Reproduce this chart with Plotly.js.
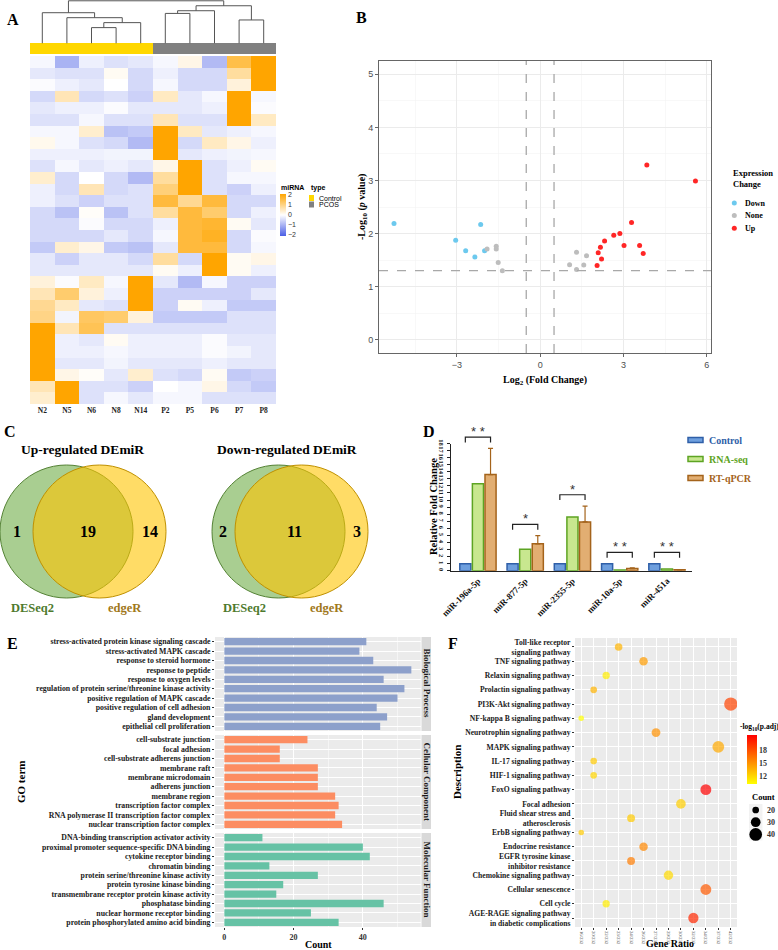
<!DOCTYPE html>
<html>
<head>
<meta charset="utf-8">
<script src="https://cdn.plot.ly/plotly-3.0.1.min.js"></script>
<style>
  html, body { margin: 0; padding: 0; background: #fff; }
  #chart { width: 778px; height: 950px; }
</style>
</head>
<body>
<div id="chart"></div>
<script>
// ---------- A: heatmap ----------
const samples = ["N2", "N5", "N6", "N8", "N14", "P2", "P5", "P6", "P7", "P8"];
const sampleType = ["Control", "Control", "Control", "Control", "Control", "PCOS", "PCOS", "PCOS", "PCOS", "PCOS"];
const heatRows = [
  [-0.1, -1.0, -0.2, -0.4, -0.3, -0.1, 0.2, -0.9, 1.5, 2.5],
  [-0.3, -0.4, -0.4, 0.1, -0.5, -0.2, -0.5, -0.5, 0.8, 2.5],
  [-0.05, -0.2, -0.3, 0.0, -0.5, -0.1, -0.5, -0.5, 0.3, 2.5],
  [-0.5, 0.6, -0.5, -0.4, -0.6, 0.5, -0.3, -0.1, 2.5, -0.1],
  [-0.3, -0.2, -0.2, -0.05, -0.3, -0.3, -0.3, -0.2, 2.5, -0.05],
  [-0.4, -0.4, -0.1, -0.4, -0.4, 0.6, -0.4, -0.4, 2.5, 0.5],
  [-0.1, -0.1, 0.4, -0.8, -0.7, 2.5, 0.5, -0.3, -0.2, -0.1],
  [0.15, -0.1, -0.4, -0.5, -0.9, 2.5, -0.5, 0.5, 0.2, -0.2],
  [-0.2, -0.2, -0.2, -0.15, -0.15, 2.5, -0.3, -0.2, -0.15, -0.1],
  [-0.4, -0.1, -0.3, -0.2, -0.3, 0.2, 2.5, -0.4, -0.2, 0.1],
  [0.4, -0.5, 0.0, -0.5, -0.9, 0.8, 2.5, -0.4, -0.1, -0.1],
  [-0.2, -0.5, 0.6, -0.5, -0.4, 1.1, 2.5, -0.4, -0.6, -0.2],
  [-0.2, -0.4, -0.6, -0.4, -0.4, 1.6, 0.9, 1.6, -0.5, -0.5],
  [-0.5, -0.8, 0.05, -0.8, -0.4, 0.8, 1.6, 1.2, -0.5, -0.2],
  [-0.5, -0.5, -0.05, -0.5, -0.5, -0.2, 1.6, 1.7, 0.1, -0.3],
  [-0.5, -0.5, -0.5, -0.3, -0.5, -0.1, 1.6, 1.8, -0.5, -0.05],
  [-0.7, 0.4, 0.2, -0.7, -0.8, -0.3, 1.6, 1.6, -0.5, -0.1],
  [-0.3, -0.6, -0.3, -0.3, -0.5, 0.8, -0.5, 2.5, 0.1, 0.2],
  [-0.3, -0.3, -0.3, -0.3, -0.3, 0.1, -0.2, 2.5, 0.1, -0.2],
  [0.3, -0.05, 0.5, -0.1, 2.5, -0.3, -0.9, -0.1, -0.6, -0.6],
  [0.6, 1.2, 0.3, -0.2, 2.3, -0.6, -0.6, -0.6, -0.6, -0.3],
  [0.9, 0.5, -0.3, -0.4, 2.5, -0.6, 0.1, -0.2, -0.7, -0.7],
  [1.0, -0.15, 1.3, 1.2, 0.3, -0.7, -0.7, -0.7, -0.4, -0.4],
  [2.5, 0.6, 1.4, -0.4, -0.4, -0.4, -0.4, -0.4, -0.4, -0.4],
  [2.5, -0.2, -0.3, 0.1, -0.2, -0.2, -0.2, -0.05, -0.3, -0.3],
  [2.5, -0.2, -0.2, -0.1, -0.2, -0.2, -0.2, -0.05, -0.15, -0.3],
  [2.5, -0.3, -0.3, -0.15, -0.3, -0.3, -0.3, -0.2, -0.3, -0.3],
  [2.5, 0.2, 0.05, -0.3, 0.4, -0.4, -0.5, 0.1, -0.7, -0.6],
  [0.6, 2.5, -0.4, -0.4, -0.6, 0.0, -0.1, 0.2, -0.5, -0.7],
  [0.4, 2.5, -0.4, -0.1, -0.3, -0.1, -0.1, -0.4, -0.4, -0.4]
];
// column clustering: [childA, childB, height]; ids >= 10 are earlier merges
const dendroMerges = [
  [2, 3, 16], [4, 10, 21], [1, 11, 26], [0, 12, 31],
  [5, 6, 30.3], [14, 7, 33], [8, 9, 23.7], [15, 16, 38], [13, 17, 43]
];

// ---------- B: volcano ----------
const volcanoFC = [-5.26, -3.04, -2.68, -2.35, -2.14, -2.0,
  -1.91, -1.58, -1.58, -1.51, -1.36, 1.06, 1.31, 1.31, 1.57, 1.67,
  2.05, 2.09, 2.17, 2.21, 2.32, 2.65, 2.87, 3.02, 3.29, 3.58, 3.71, 3.84, 5.59];
const volcanoLogP = [2.19, 1.875, 1.675, 1.556, 2.17, 1.675,
  1.71, 1.76, 1.71, 1.456, 1.3, 1.41, 1.65, 1.325, 1.406, 1.58,
  1.4, 1.64, 1.74, 1.52, 1.86, 1.97, 2.0, 1.775, 2.21, 1.775, 1.625, 3.29, 2.99];
const volcanoStatus = ["Down", "Down", "Down", "Down", "Down", "Down",
  "None", "None", "None", "None", "None", "None", "None", "None", "None", "None",
  "Up", "Up", "Up", "Up", "Up", "Up", "Up", "Up", "Up", "Up", "Up", "Up", "Up"];
const statusLevels = ["Down", "None", "Up"];
const statusColors = { Down: "#6CC9EE", None: "#BDBDBD", Up: "#FF2626" };

// ---------- C: venn ----------
const vennUpCounts = [1, 19, 14];
const vennDownCounts = [2, 11, 3];

// ---------- D: validation bars ----------
const mirnas = ["miR-196a-5p", "miR-877-5p", "miR-2355-5p", "miR-10a-5p", "miR-451a"];
const controlFC = [1, 1, 1, 1, 1];
const rnaseqFC = [12.3, 3.05, 7.6, 0.1, 0.25];
const qpcrFC = [13.6, 3.8, 6.9, 0.3, 0.12];
const qpcrErr = [3.7, 1.15, 2.25, 0.1, 0.03];
const sigMarks = ["* *", "*", "*", "* *", "* *"];

// ---------- E: GO enrichment ----------
const bpTerms = ["stress-activated protein kinase signaling cascade", "stress-activated MAPK cascade",
  "response to steroid hormone", "response to peptide", "response to oxygen levels",
  "regulation of protein serine/threonine kinase activity", "positive regulation of MAPK cascade",
  "positive regulation of cell adhesion", "gland development", "epithelial cell proliferation"];
const bpCounts = [41, 39, 43, 54, 46, 52, 50, 44, 47, 45];
const ccTerms = ["cell-substrate junction", "focal adhesion", "cell-substrate adherens junction",
  "membrane raft", "membrane microdomain", "adherens junction", "membrane region",
  "transcription factor complex", "RNA polymerase II transcription factor complex",
  "nuclear transcription factor complex"];
const ccCounts = [24, 16, 16, 27, 27, 27, 32, 33, 32, 34];
const mfTerms = ["DNA-binding transcription activator activity", "proximal promoter sequence-specific DNA binding",
  "cytokine receptor binding", "chromatin binding", "protein serine/threonine kinase activity",
  "protein tyrosine kinase binding", "transmembrane receptor protein kinase activity",
  "phosphatase binding", "nuclear hormone receptor binding", "protein phosphorylated amino acid binding"];
const mfCounts = [11, 40, 42, 13, 27, 17, 15, 46, 25, 33];

// ---------- F: KEGG dot plot ----------
const ratioLevels = ["16/232", "20/232", "22/232", "23/232", "24/232", "26/232", "27/232",
  "29/232", "30/232", "32/232", "34/232", "37/232", "42/232"];
const keggTerms = ["Toll-like receptor<br>signaling pathway", "TNF signaling pathway",
  "Relaxin signaling pathway", "Prolactin signaling pathway", "PI3K-Akt signaling pathway",
  "NF-kappa B signaling pathway", "Neurotrophin signaling pathway", "MAPK signaling pathway",
  "IL-17 signaling pathway", "HIF-1 signaling pathway", "FoxO signaling pathway", "Focal adhesion",
  "Fluid shear stress and<br>atherosclerosis", "ErbB signaling pathway", "Endocrine resistance",
  "EGFR tyrosine kinase<br>inhibitor resistance", "Chemokine signaling pathway", "Cellular senescence",
  "Cell cycle", "AGE-RAGE signaling pathway<br>in diabetic complications"];
const keggRatio = ["23/232", "26/232", "22/232", "20/232", "42/232", "16/232", "27/232", "37/232",
  "20/232", "20/232", "34/232", "30/232", "24/232", "16/232", "26/232", "24/232", "29/232",
  "34/232", "22/232", "32/232"];
const keggCount = [23, 26, 22, 20, 42, 16, 27, 37, 20, 20, 34, 30, 24, 16, 26, 24, 29, 34, 22, 32];
const keggLogP = [13.5, 14.5, 11, 13.5, 18.5, 10.15, 15, 14, 12.5, 12, 21.5, 12.3, 12.5, 12.5,
  15.5, 16, 11.8, 17.5, 11, 19.8];
const sizeBreaks = [20, 30, 40];

// ---------- helpers ----------
const W = 778, H = 950;
const SERIF = "Liberation Serif, Times New Roman, serif";
const SANS = "Liberation Sans, Arial, sans-serif";
const fx = p => p / W;
const fy = p => 1 - p / H;
const domX = (a, b) => [a / W, b / W];
const domY = (top, bot) => [1 - bot / H, 1 - top / H];
const font = (size, color, family, weight) => ({ size, color: color || "#000", family: family || SERIF, weight: weight || "normal" });
const dotSize = c => 0.3 * c + 0.7;

function note(text, x, y, f, extra) {
  return Object.assign({
    text, x: fx(x), y: fy(y), xref: "paper", yref: "paper", showarrow: false,
    xanchor: "center", yanchor: "middle", font: f
  }, extra || {});
}

function dendroLines(merges, nLeaves) {
  const pos = [], ht = [], xs = [], ys = [];
  for (let i = 0; i < nLeaves; i++) { pos[i] = i; ht[i] = 0; }
  merges.forEach(([a, b, h], k) => {
    xs.push(pos[a], pos[a], pos[b], pos[b], null);
    ys.push(ht[a], h, h, ht[b], null);
    pos[nLeaves + k] = (pos[a] + pos[b]) / 2;
    ht[nLeaves + k] = h;
  });
  return { xs, ys };
}

const traces = [];
const shapes = [];
const annotations = [];
const idx = samples.map((s, i) => i);

// ---------- A ----------
traces.push({
  type: "heatmap", xaxis: "x", yaxis: "y",
  z: heatRows, x: idx, y: heatRows.map((r, i) => i),
  zmin: -2.1, zmax: 2.1,
  colorscale: [[0, "#4B5FE6"], [0.5, "#FFFFFF"], [1, "#FFA500"]],
  colorbar: {
    x: fx(280), xanchor: "left", y: fy(194), yanchor: "top",
    len: 42, lenmode: "pixels", thickness: 6, outlinewidth: 0, xpad: 0, ypad: 0,
    tickvals: [-2, -1, 0, 1, 2], ticks: "", tickfont: font(7, "#333", SANS)
  },
  hoverinfo: "skip"
});
traces.push({
  type: "heatmap", xaxis: "x2", yaxis: "y2",
  z: [sampleType.map(t => t === "Control" ? 0 : 1)], x: idx,
  zmin: 0, zmax: 1, showscale: false,
  colorscale: [[0, "#FFD700"], [0.5, "#FFD700"], [0.5, "#808080"], [1, "#808080"]],
  hoverinfo: "skip"
});
const dendro = dendroLines(dendroMerges, samples.length);
traces.push({
  type: "scatter", mode: "lines", xaxis: "x3", yaxis: "y3",
  x: dendro.xs, y: dendro.ys, line: { color: "#555", width: 1 }, hoverinfo: "skip"
});

annotations.push(note("miRNA", 279, 187.5, font(7, "#000", SANS, "bold"), { xanchor: "left" }));
annotations.push(note("type", 309, 187.5, font(7, "#000", SANS, "bold"), { xanchor: "left" }));
[["Control", "#FFD700"], ["PCOS", "#808080"]].forEach(([name, col], i) => {
  const top = 195 + i * 6.5;
  shapes.push({ type: "rect", xref: "paper", yref: "paper", x0: fx(309), x1: fx(314), y0: fy(top + 6), y1: fy(top), fillcolor: col, line: { width: 0 } });
  annotations.push(note(name, 317, top + 3, font(7, "#000", SANS), { xanchor: "left" }));
});

// ---------- B ----------
statusLevels.forEach(st => {
  const sel = volcanoStatus.map((s, i) => s === st ? i : -1).filter(i => i >= 0);
  traces.push({
    type: "scatter", mode: "markers", xaxis: "x4", yaxis: "y4", name: st,
    x: sel.map(i => volcanoFC[i]), y: sel.map(i => volcanoLogP[i]),
    marker: { color: statusColors[st], size: 5 }
  });
});
[-0.5, 0.5].forEach(v => shapes.push({
  type: "line", xref: "x4", yref: "y4 domain", x0: v, x1: v, y0: 0, y1: 1,
  line: { color: "#A8A8A8", width: 1.3, dash: "dash" }
}));
shapes.push({
  type: "line", xref: "x4 domain", yref: "y4", x0: 0, x1: 1, y0: 1.3, y1: 1.3,
  line: { color: "#A8A8A8", width: 1.3, dash: "dash" }
});
annotations.push(note("-Log<sub>10</sub> (<i>p</i> value)", 362, 207, font(10, "#000", SERIF, "bold"), { textangle: -90 }));
annotations.push(note("Log<sub>2</sub> (Fold Change)", 545, 380, font(10, "#000", SERIF, "bold")));
annotations.push(note("Expression<br>Change", 731, 178, font(8.5, "#000", SERIF, "bold"), { xanchor: "left", align: "left" }));
statusLevels.forEach((st, i) => {
  const yy = 203 + i * 12.6;
  shapes.push({ type: "circle", xref: "paper", yref: "paper", x0: fx(731.8), x1: fx(736.8), y0: fy(yy + 2.5), y1: fy(yy - 2.5), fillcolor: statusColors[st], line: { width: 0 } });
  annotations.push(note(st, 743, yy, font(8, "#000", SERIF, "bold"), { xanchor: "left" }));
});

// ---------- C ----------
const greenFill = "rgba(112,173,71,0.6)", greenLine = "#548235";
const yellowFill = "rgba(255,196,0,0.6)", yellowLine = "#BF9000";
function venn(title, counts, cxG, cxY, tx) {
  const cy = 531.5, r = 66.5;
  shapes.push({ type: "circle", xref: "paper", yref: "paper", x0: fx(cxG - r), x1: fx(cxG + r), y0: fy(cy + r), y1: fy(cy - r), fillcolor: greenFill, line: { color: greenLine, width: 1 } });
  shapes.push({ type: "circle", xref: "paper", yref: "paper", x0: fx(cxY - r), x1: fx(cxY + r), y0: fy(cy + r), y1: fy(cy - r), fillcolor: yellowFill, line: { color: yellowLine, width: 1 } });
  annotations.push(note(title, tx, 450, font(13.5, "#000", SERIF, "bold")));
  const nx = [cxG - r + (cxY - cxG) / 2, (cxY - r + cxG + r) / 2 + 4.5, (cxG + r + cxY + r) / 2];
  counts.forEach((c, i) => annotations.push(note(String(c), nx[i], 531, font(16, "#000", SERIF, "bold"))));
  annotations.push(note("DESeq2", cxG - 34, 608, font(12.5, "#4E7A2E", SERIF, "bold")));
  annotations.push(note("edgeR", cxY + 25, 608, font(12.5, "#A0781A", SERIF, "bold")));
}
venn("Up-regulated DEmiR", vennUpCounts, 66.5, 99.5, 82);
venn("Down-regulated DEmiR", vennDownCounts, 278.5, 301.5, 287);

// ---------- D ----------
const barSeries = [
  { name: "Control", y: controlFC, fill: "#6E9FDE", line: "#2F5FA8" },
  { name: "RNA-seq", y: rnaseqFC, fill: "#C8E78F", line: "#5DA423" },
  { name: "RT-qPCR", y: qpcrFC, fill: "#E2AE72", line: "#A4631B", err: qpcrErr }
];
barSeries.forEach(s => {
  const t = {
    type: "bar", xaxis: "x5", yaxis: "y5", name: s.name, x: mirnas, y: s.y,
    marker: { color: s.fill, line: { color: s.line, width: 1.5 } }
  };
  if (s.err) t.error_y = { type: "data", array: s.err, arrayminus: s.err.map(() => 0), symmetric: false, color: s.line, thickness: 1.2, width: 2.5 };
  traces.push(t);
});
const D_TOP = 443.5, D_BOT = 570.7, D_MAX = 18;
const dPaper = v => fy(D_BOT - v * (D_BOT - D_TOP) / D_MAX);
const slot = 0.8 / 3;
mirnas.forEach((m, i) => {
  const top = Math.max(controlFC[i], rnaseqFC[i], qpcrFC[i] + qpcrErr[i]) + 1.6;
  const low = top - 0.75;
  shapes.push({
    type: "path", xref: "x5", yref: "paper",
    path: `M ${i - slot} ${dPaper(low)} L ${i - slot} ${dPaper(top)} L ${i + slot} ${dPaper(top)} L ${i + slot} ${dPaper(low)}`,
    line: { color: "#222", width: 1.2 }
  });
  annotations.push({ text: sigMarks[i], xref: "x5", yref: "paper", x: i, y: dPaper(top), xanchor: "center", yanchor: "bottom", yshift: -4, showarrow: false, font: font(13, "#333", SANS) });
});
annotations.push(note("Relative Fold Change", 433, 507, font(10.5, "#000", SERIF, "bold"), { textangle: -90 }));
barSeries.forEach((s, i) => {
  const yy = 440 + i * 19;
  shapes.push({ type: "rect", xref: "paper", yref: "paper", x0: fx(688), x1: fx(703), y0: fy(yy + 2.5), y1: fy(yy - 2.5), fillcolor: s.fill, line: { color: s.line, width: 1.5 } });
  annotations.push(note(s.name, 707, yy, font(10, s.line, SERIF, "bold"), { xanchor: "left" }));
});

// ---------- E ----------
const goFacets = [
  { terms: bpTerms, counts: bpCounts, color: "#8DA0CB", label: "Biological Process", top: 637, bot: 731 },
  { terms: ccTerms, counts: ccCounts, color: "#FC8D62", label: "Cellular Component", top: 735, bot: 829 },
  { terms: mfTerms, counts: mfCounts, color: "#66C2A5", label: "Molecular Function", top: 833, bot: 927 }
];
goFacets.forEach((f, k) => {
  const n = k + 6;
  traces.push({
    type: "bar", orientation: "h", xaxis: "x" + n, yaxis: "y" + n,
    x: f.counts, y: f.terms, width: 0.78, marker: { color: f.color }, hoverinfo: "x+y"
  });
  shapes.push({ type: "rect", xref: "paper", yref: "paper", layer: "below", x0: fx(215), x1: fx(420.7), y0: fy(f.bot), y1: fy(f.top), fillcolor: "#EBEBEB", line: { width: 0 } });
  shapes.push({ type: "rect", xref: "paper", yref: "paper", x0: fx(421.5), x1: fx(431), y0: fy(f.bot), y1: fy(f.top), fillcolor: "#D9D9D9", line: { width: 0 } });
  annotations.push(note(f.label, 426.5, (f.top + f.bot) / 2, font(9, "#1A1A1A", SERIF, "bold"), { textangle: 90 }));
});
annotations.push(note("GO term", 21, 782, font(11, "#000", SERIF, "bold"), { textangle: -90 }));
annotations.push(note("Count", 318, 944.5, font(10, "#000", SERIF, "bold")));

// ---------- F ----------
traces.push({
  type: "scatter", mode: "markers", xaxis: "x9", yaxis: "y9",
  x: keggRatio, y: keggTerms,
  marker: {
    size: keggCount.map(dotSize), color: keggLogP, cmin: 10.15, cmax: 21.5,
    colorscale: [[0, "#FFFF00"], [1, "#FF0000"]], line: { width: 0 },
    colorbar: {
      x: fx(747), xanchor: "left", y: fy(735), yanchor: "top",
      len: 49, lenmode: "pixels", thickness: 10, outlinewidth: 0, xpad: 0, ypad: 0,
      tickvals: [12, 15, 18], ticks: "", tickfont: font(8, "#333", SERIF, "bold")
    }
  }
});
shapes.push({ type: "rect", xref: "paper", yref: "paper", layer: "below", x0: fx(575), x1: fx(737), y0: fy(927), y1: fy(638), fillcolor: "#EBEBEB", line: { width: 0 } });
annotations.push(note("Description", 457, 772, font(11, "#000", SERIF, "bold"), { textangle: -90 }));
annotations.push(note("Gene Ratio", 670, 943.5, font(10, "#000", SERIF, "bold")));
annotations.push(note("-log<sub>10</sub>(p.adj)", 738, 727, font(7.5, "#000", SERIF, "bold"), { xanchor: "left" }));
annotations.push(note("Count", 750, 797, font(8.5, "#000", SERIF, "bold"), { xanchor: "left" }));
sizeBreaks.forEach((c, i) => {
  const yy = 810 + i * 12.2, d = dotSize(c);
  shapes.push({ type: "rect", xref: "paper", yref: "paper", x0: fx(749), x1: fx(762.5), y0: fy(yy + 6), y1: fy(yy - 6), fillcolor: "#F2F2F2", line: { width: 0 } });
  shapes.push({ type: "circle", xref: "paper", yref: "paper", x0: fx(755.7 - d / 2), x1: fx(755.7 + d / 2), y0: fy(yy + d / 2), y1: fy(yy - d / 2), fillcolor: "#000", line: { width: 0 } });
  annotations.push(note(String(c), 765, yy, font(8, "#333", SERIF, "bold"), { xanchor: "left" }));
});

// panel letters
[["A", 13, 19], ["B", 361, 17], ["C", 10, 431], ["D", 429, 431], ["E", 13, 643], ["F", 453, 643]]
  .forEach(([t, x, y]) => annotations.push(note(t, x, y, font(16, "#000", SERIF, "bold"))));

// ---------- axes ----------
const hidden = { visible: false, showgrid: false, zeroline: false };
const goX = {
  range: [-2.7, 56.7], tick0: 0, dtick: 20, showgrid: true, gridcolor: "#FFFFFF", gridwidth: 1,
  minor: { tick0: 0, dtick: 10, showgrid: true, gridcolor: "#FFFFFF", gridwidth: 0.5 },
  zeroline: false, showline: false
};
const goY = k => ({
  domain: domY(goFacets[k].top, goFacets[k].bot), anchor: "x" + (k + 6), type: "category",
  tickmode: "array", tickvals: goFacets[k].terms, ticktext: goFacets[k].terms,
  autorange: "reversed", showgrid: true, gridcolor: "#FFFFFF", gridwidth: 1,
  ticks: "outside", ticklen: 2, tickcolor: "#333", tickfont: font(7.8, "#1A1A1A", SERIF, "bold")
});

const layout = {
  width: W, height: H, margin: { l: 0, r: 0, t: 0, b: 0 },
  paper_bgcolor: "#FFFFFF", plot_bgcolor: "rgba(0,0,0,0)", showlegend: false,
  bargap: 0.2, bargroupgap: 0.12, barmode: "group",
  xaxis: {
    domain: domX(30, 276), anchor: "y", range: [-0.5, 9.5], tickvals: idx, ticktext: samples,
    tickfont: font(7.5, "#222", SERIF, "bold"), showgrid: false, zeroline: false, ticks: "", showline: false
  },
  yaxis: {
    domain: domY(56, 404), anchor: "x", range: [29.5, -0.5], showticklabels: false,
    showgrid: false, zeroline: false, ticks: "", showline: false
  },
  xaxis2: Object.assign({ domain: domX(30, 276), anchor: "y2", range: [-0.5, 9.5] }, hidden),
  yaxis2: Object.assign({ domain: domY(43, 54), anchor: "x2", range: [-0.5, 0.5] }, hidden),
  xaxis3: Object.assign({ domain: domX(30, 276), anchor: "y3", range: [-0.5, 9.5] }, hidden),
  yaxis3: Object.assign({ domain: domY(0, 43.5), anchor: "x3", range: [0, 43.8] }, hidden),
  xaxis4: {
    domain: domX(379, 711), anchor: "y4", range: [-5.8, 6.15], tick0: 0, dtick: 3,
    showgrid: true, gridcolor: "#EBEBEB", gridwidth: 1,
    minor: { tick0: 0, dtick: 1.5, showgrid: true, gridcolor: "#F4F4F4", gridwidth: 0.6 },
    zeroline: false, showline: true, mirror: true, linecolor: "#666", linewidth: 1,
    ticks: "outside", ticklen: 3, tickcolor: "#666", tickfont: font(9, "#4D4D4D", SANS)
  },
  yaxis4: {
    domain: domY(61, 353), anchor: "x4", range: [-0.25, 5.25], tick0: 0, dtick: 1,
    showgrid: true, gridcolor: "#EBEBEB", gridwidth: 1,
    minor: { tick0: 0, dtick: 0.5, showgrid: true, gridcolor: "#F4F4F4", gridwidth: 0.6 },
    zeroline: false, showline: true, mirror: true, linecolor: "#666", linewidth: 1,
    ticks: "outside", ticklen: 3, tickcolor: "#666", tickfont: font(9, "#4D4D4D", SANS)
  },
  xaxis5: {
    domain: domX(451, 692), anchor: "y5", type: "category", range: [-0.57, 4.53],
    showline: true, linecolor: "#222", linewidth: 1.5, ticks: "", tickangle: -45,
    tickfont: font(9, "#111", SERIF, "bold"), showgrid: false, zeroline: false
  },
  yaxis5: {
    domain: domY(D_TOP, D_BOT), anchor: "x5", range: [0, D_MAX], dtick: 1,
    showline: true, linecolor: "#222", linewidth: 1.5, ticks: "outside", ticklen: 3, tickcolor: "#222",
    tickfont: font(6.5, "#222", SERIF, "bold"), tickangle: 90, showgrid: false, zeroline: false
  },
  xaxis6: Object.assign({ domain: domX(215, 420.7), anchor: "y6", showticklabels: false, ticks: "" }, goX),
  xaxis7: Object.assign({ domain: domX(215, 420.7), anchor: "y7", showticklabels: false, ticks: "" }, goX),
  xaxis8: Object.assign({
    domain: domX(215, 420.7), anchor: "y8", ticks: "outside", ticklen: 2, tickcolor: "#333",
    tickfont: font(8, "#333", SERIF, "bold")
  }, goX),
  yaxis6: goY(0), yaxis7: goY(1), yaxis8: goY(2),
  xaxis9: {
    domain: domX(575, 737), anchor: "y9", type: "category", categoryorder: "array", categoryarray: ratioLevels,
    range: [-0.5, 12.5], tickangle: 90, tickfont: font(4.8, "#4D4D4D", SERIF),
    showgrid: true, gridcolor: "#FFFFFF", gridwidth: 1, zeroline: false,
    ticks: "outside", ticklen: 2, tickcolor: "#333"
  },
  yaxis9: {
    domain: domY(638, 927), anchor: "x9", type: "category", categoryorder: "array", categoryarray: keggTerms,
    range: [19.63, -0.63], showgrid: true, gridcolor: "#FFFFFF", gridwidth: 1, zeroline: false,
    ticks: "outside", ticklen: 2, tickcolor: "#333", tickfont: font(7.6, "#1A1A1A", SERIF, "bold")
  },
  shapes, annotations
};

Plotly.newPlot("chart", traces, layout, { displayModeBar: false, staticPlot: true });
</script>
</body>
</html>
